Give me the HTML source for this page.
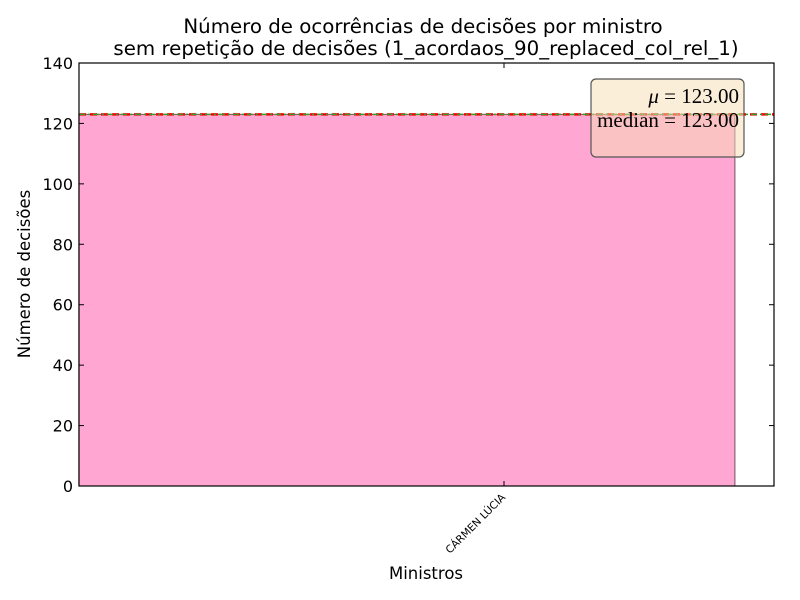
<!DOCTYPE html>
<html><head><meta charset="utf-8"><style>body{margin:0;background:#fff}svg{display:block}text{font-family:"DejaVu Sans","Liberation Sans",sans-serif}text.serif{font-family:"Liberation Serif","DejaVu Serif",serif}</style></head>
<body>
<svg id="chart" width="800" height="600">
<rect width="800" height="600" fill="#fff"/>
<text x="423" y="33" text-anchor="middle" font-size="19.8">Número de ocorrências de decisões por ministro</text>
<text x="426" y="55" text-anchor="middle" font-size="19.8">sem repetição de decisões (1_acordaos_90_replaced_col_rel_1)</text>
<g id="plot"></g>
<text x="426" y="579" text-anchor="middle" font-size="16.5">Ministros</text>
<text transform="translate(30,274) rotate(-90)" text-anchor="middle" font-size="16.5">Número de decisões</text>
</svg>
<script>
const categories = ["CÁRMEN LÚCIA"];
const values = [123];
const meanValue = 123.00;
const medianValue = 123.00;
const yTicks = [0,20,40,60,80,100,120,140];

const L=79,R=774,T=63,B=486,yMax=140;
const y=v=>B-(v/yMax)*(B-T);
const x=v=>504+v*656;
const g=document.getElementById('plot');
const NS='http://www.w3.org/2000/svg';
function mk(t,a){const e=document.createElementNS(NS,t);for(const k in a)e.setAttribute(k,a[k]);g.appendChild(e);return e;}

values.forEach((v,i)=>{
  const b=mk('rect',{x:x(i-0.648),y:y(v),width:x(i+0.352)-x(i-0.648),height:B-y(v),fill:'#ffa6d2',stroke:'#7a4f64','stroke-width':1});
  
  
  const tx=x(i), t=mk('text',{transform:`translate(${tx+2},${B+12}) rotate(-45)`,'text-anchor':'end','font-size':10.5});
  t.textContent=categories[i];
  
  
  mk('line',{x1:tx,x2:tx,y1:B,y2:B-5,stroke:'#000'});
  mk('line',{x1:tx,x2:tx,y1:T,y2:T+5,stroke:'#000'});
});

const ml=mk('line',{x1:L,x2:R,y1:y(meanValue),y2:y(meanValue),stroke:'#ff0000','stroke-width':2.5,'stroke-dasharray':'7,4'});


const dl=mk('line',{x1:L,x2:R,y1:y(medianValue),y2:y(medianValue),stroke:'#2ca02c','stroke-width':1.5,'stroke-dasharray':'6,3,2,3'});



yTicks.forEach(v=>{
  mk('line',{x1:L,x2:L+5,y1:y(v),y2:y(v),stroke:'#000'});
  mk('line',{x1:R,x2:R-5,y1:y(v),y2:y(v),stroke:'#000'});
  const t=mk('text',{x:L-6,y:y(v)+6,'text-anchor':'end','font-size':16});
  t.textContent=v;
  
  
});
const fr=mk('rect',{x:L,y:T,width:R-L,height:B-T,fill:'none',stroke:'#000','stroke-width':1.2});



const lb=mk('rect',{x:591,y:79,width:153,height:78,rx:5,fill:'rgba(245,222,179,0.5)',stroke:'#555','stroke-width':1.2});


const t1=mk('text',{x:739,y:103,'text-anchor':'end','font-size':21,'class':'serif'});
t1.innerHTML='<tspan font-style="italic">μ</tspan> = 123.00';


const t2=mk('text',{x:739,y:127,'text-anchor':'end','font-size':21,'class':'serif'});
t2.textContent='median = 123.00';


</script>
</body></html>
